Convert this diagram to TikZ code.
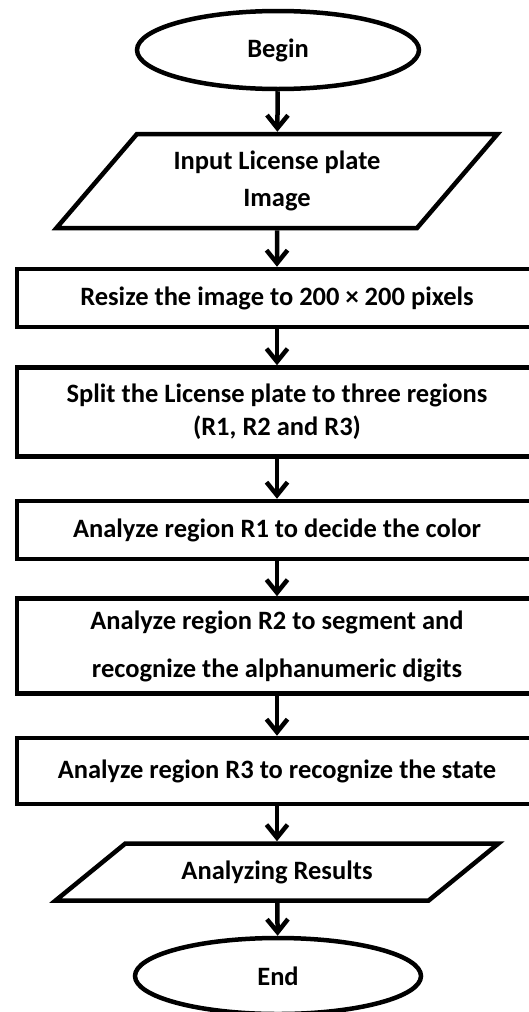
\documentclass[tikz,border=0pt]{standalone}
\usepackage{fontspec}
\setmainfont{Carlito}
\usetikzlibrary{shapes.geometric,arrows.meta}

\tikzset{
  txt/.style={font=\fontsize{26.5}{33}\selectfont\bfseries, align=center},
  box/.style={txt, draw, line width=4.5pt, minimum width=520pt},
  terminal/.style={txt, draw, ellipse, line width=4.5pt},
  io/.style={txt, draw, trapezium, trapezium stretches=true, line width=4.5pt},
  flow/.style={line width=4.5pt, -{Straight Barb[length=13pt,width=21pt]}}
}

\begin{document}
\begin{tikzpicture}[x=1pt,y=-1pt]
\useasboundingbox (0,0) rectangle (528,1012);
% start / input
\node[terminal, minimum width=282pt, minimum height=78pt] (begin) at (278,50) {Begin};
\node[io, trapezium left angle=47.4, trapezium right angle=132.6,
      minimum width=443pt, minimum height=94pt] (input) at (277,181)
      {Input License plate\\[4pt]Image};
% processing steps
\node[box, minimum height=58pt] (resize) at (277,298) {Resize the image to 200 × 200 pixels};
\node[box, minimum height=89pt] (split) at (277,412) {Split the License plate to three regions\\(R1, R2 and R3)};
\node[box, minimum height=58pt] (rone) at (277,530) {Analyze region R1 to decide the color};
\node[box, minimum height=95pt] (rtwo) at (277,646) {Analyze region R2 to segment and\\[15pt]recognize the alphanumeric digits};
\node[box, minimum height=66pt] (rthree) at (277,771) {Analyze region R3 to recognize the state};
% output / end
\node[io, trapezium left angle=33.2, trapezium right angle=146.8,
      minimum width=443pt, minimum height=57pt] (result) at (277,872) {Analyzing Results};
\node[terminal, minimum width=286pt, minimum height=76pt] (finish) at (278,976) {End};

\draw[flow] (begin) -- (input);
\draw[flow] (input) -- (resize);
\draw[flow] (resize) -- (split);
\draw[flow] (split) -- (rone);
\draw[flow] (rone) -- (rtwo);
\draw[flow] (rtwo) -- (rthree);
\draw[flow] (rthree) -- (result);
\draw[flow] (result) -- (finish);
\end{tikzpicture}
\end{document}
